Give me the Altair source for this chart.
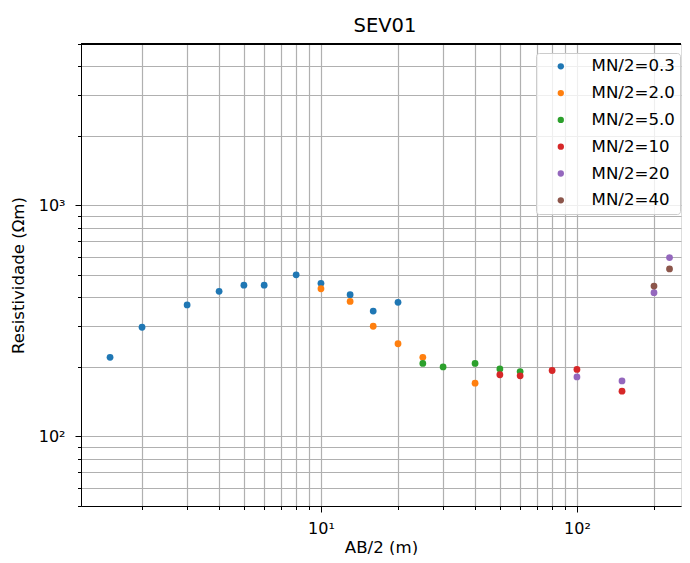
import altair as alt
import pandas as pd

# ---- data ----
series_labels = ["MN/2=0.3", "MN/2=2.0", "MN/2=5.0", "MN/2=10", "MN/2=20", "MN/2=40"]
series_colors = ["#1f77b4", "#ff7f0e", "#2ca02c", "#d62728", "#9467bd", "#8c564b"]
chart_title = "SEV01"

ab2_mn03 = [1.5, 2, 3, 4, 5, 6, 8, 10, 13, 16, 20]
rho_mn03 = [220, 297, 371, 425, 452, 452, 501, 460, 411, 349, 381]
ab2_mn2 = [10, 13, 16, 20, 25, 40]
rho_mn2 = [436, 384, 300, 252, 220, 170]
ab2_mn5 = [25, 30, 40, 50, 60]
rho_mn5 = [207, 200, 207, 196, 191]
ab2_mn10 = [50, 60, 80, 100, 150]
rho_mn10 = [185, 183, 193, 195, 157]
ab2_mn20 = [100, 150, 200, 230]
rho_mn20 = [181, 174, 419, 595]
ab2_mn40 = [200, 230]
rho_mn40 = [448, 531]

x_ticks = [2, 3, 4, 5, 6, 7, 8, 9, 10, 20, 30, 40, 50, 60, 70, 80, 90, 100, 200]
y_ticks = [50, 60, 70, 80, 90, 100, 200, 300, 400, 500, 600, 700, 800, 900,
           1000, 2000, 3000, 4000, 5000]
x_domain = [1.155, 255]
y_domain = [50, 5000]

# ---- table ----
all_x = [ab2_mn03, ab2_mn2, ab2_mn5, ab2_mn10, ab2_mn20, ab2_mn40]
all_y = [rho_mn03, rho_mn2, rho_mn5, rho_mn10, rho_mn20, rho_mn40]
rows = []
for i, (lab, xs, ys) in enumerate(zip(series_labels, all_x, all_y)):
    for xv, yv in zip(xs, ys):
        rows.append({"ab2": xv, "rho": yv, "serie": lab, "ordem": i})
df = pd.DataFrame(rows)

FONT = "DejaVu Sans"
W, H = 600, 462

x_major = "datum.value == 10 || datum.value == 100"
y_major = "datum.value == 100 || datum.value == 1000"

x_axis = alt.Axis(
    orient="bottom", values=x_ticks, grid=True, gridColor="#b0b0b0", gridWidth=1.2,
    domain=True, domainColor="black", domainWidth=1,
    ticks=True, tickColor="black", tickWidth=1,
    tickSize={"condition": {"test": x_major, "value": 6}, "value": 3.5},
    labelExpr="datum.value == 10 ? '10¹' : (datum.value == 100 ? '10²' : '')",
    labelOverlap=False, labelFlush=False, labelFont=FONT, labelFontSize=16,
    labelColor="black", labelPadding=8,
    title="AB/2 (m)", titleFont=FONT, titleFontSize=16.6, titleFontWeight="normal",
    titleColor="black", titleY=41, titleBaseline="middle",
)
y_axis = alt.Axis(
    orient="left", values=y_ticks, grid=True, gridColor="#b0b0b0", gridWidth=1.2,
    domain=True, domainColor="black", domainWidth=1,
    ticks=True, tickColor="black", tickWidth=1,
    tickSize={"condition": {"test": y_major, "value": 6}, "value": 3.5},
    labelExpr="datum.value == 1000 ? '10³' : (datum.value == 100 ? '10²' : '')",
    labelOverlap=False, labelFlush=False, labelFont=FONT, labelFontSize=16,
    labelColor="black", labelPadding=10,
    title="Resistividade (Ωm)", titleFont=FONT, titleFontSize=16.6,
    titleFontWeight="normal", titleColor="black", titleX=-63, titleBaseline="middle",
)

xs = alt.Scale(type="log", domain=x_domain, nice=False)
ys = alt.Scale(type="log", domain=y_domain, nice=False)

points = alt.Chart(df).mark_circle(size=46, opacity=1).encode(
    x=alt.X("ab2:Q", scale=xs, axis=x_axis),
    y=alt.Y("rho:Q", scale=ys, axis=y_axis),
    color=alt.Color(
        "serie:N",
        scale=alt.Scale(domain=series_labels, range=series_colors),
        legend=alt.Legend(
            title=None, orient="none", legendX=455, legendY=9,
            fillColor="rgba(255,255,255,0.8)", strokeColor="#cccccc",
            cornerRadius=3, padding=5, symbolType="circle", symbolSize=40,
            symbolOffset=11.5, labelOffset=22.5, rowPadding=9.8,
            labelFont=FONT, labelFontSize=16.6, labelColor="black",
        ),
    ),
    order=alt.Order("ordem:Q"),
)

# top spine of the frame
top_spine = alt.Chart(df).mark_rule(color="black", strokeWidth=1).encode(
    x=alt.value(0), x2=alt.value(W), y=alt.value(0)
)

# chart title as a text mark above the frame
title_mark = alt.Chart(pd.DataFrame({"t": [chart_title]})).mark_text(
    font=FONT, fontSize=19.5, color="black", align="center", baseline="alphabetic"
).encode(text="t:N", x=alt.value(304), y=alt.value(-12))

chart = alt.layer(points, top_spine, title_mark).properties(
    width=W, height=H,
    padding={"left": 73, "top": 36, "right": 1, "bottom": 49},
    autosize=alt.AutoSizeParams(type="none"),
).configure_view(stroke=None).configure(background="white")

chart.save("out.html", embed_options={"renderer": "svg", "actions": False})
